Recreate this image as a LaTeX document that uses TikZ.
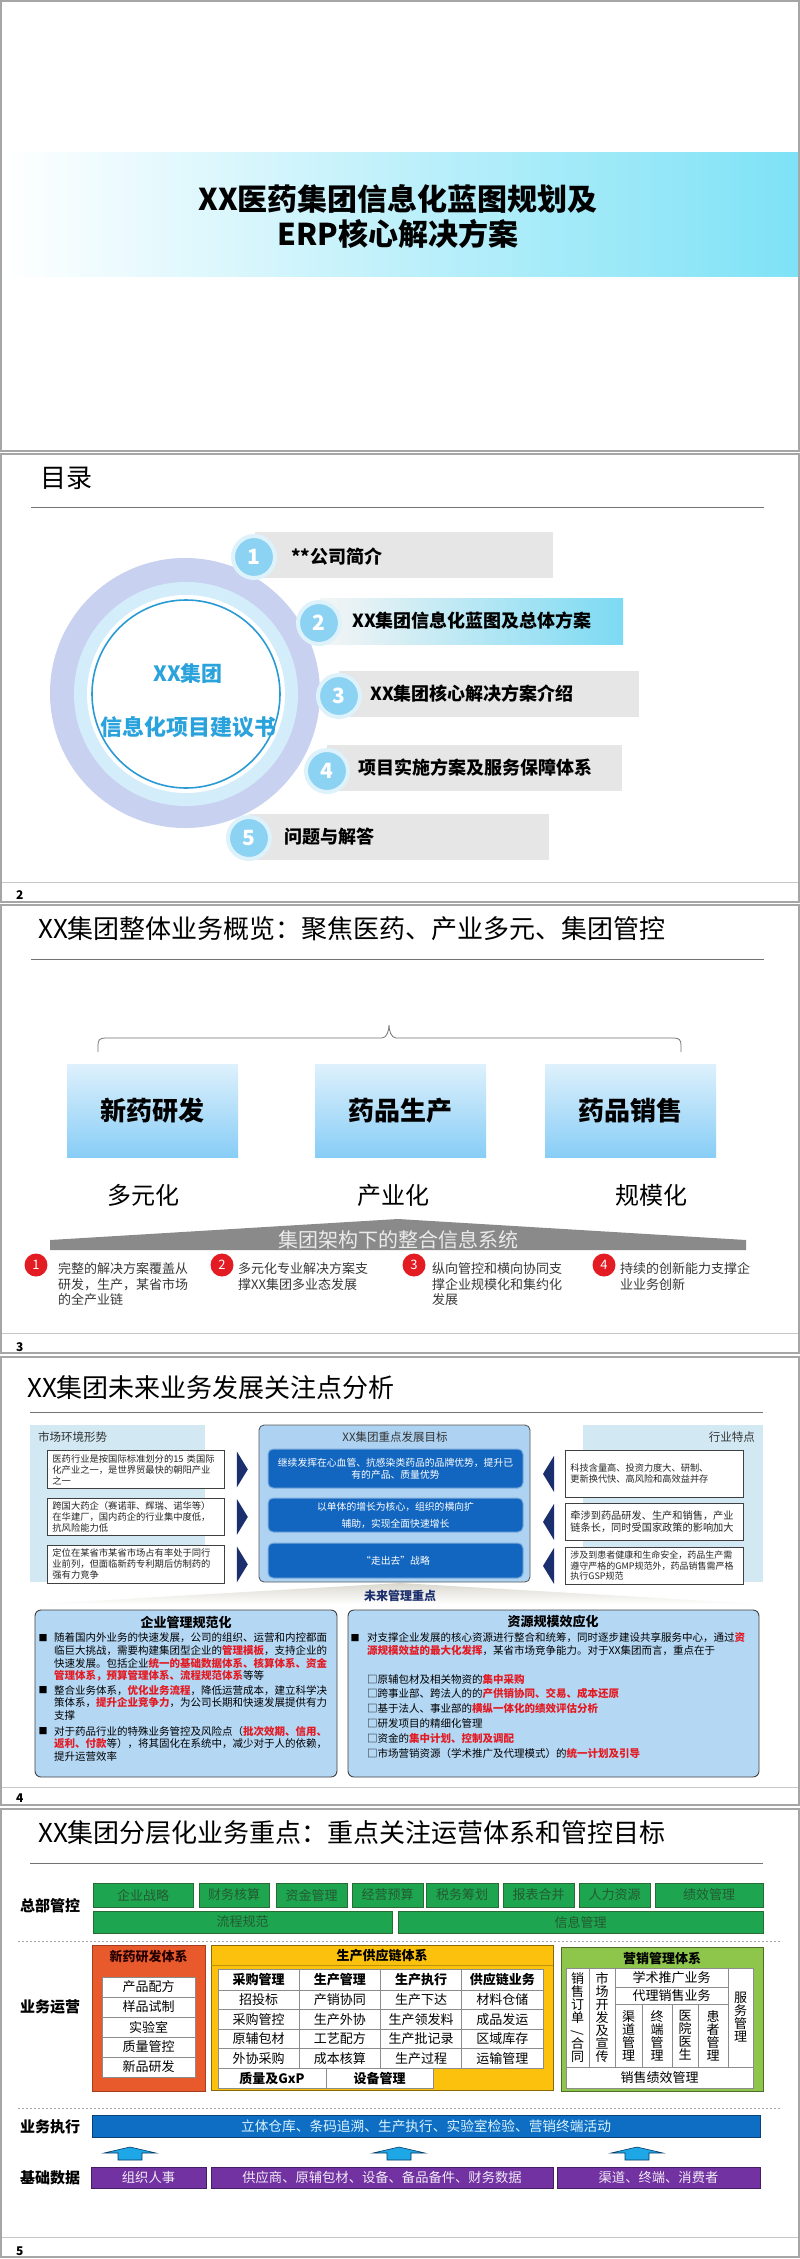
\documentclass[tikz,border=0pt]{standalone}
\usepackage{fontspec}
\usepackage{graphicx}
\setmainfont{Noto Sans CJK SC}
\usetikzlibrary{positioning}

\definecolor{framegray}{HTML}{A6A6A6}
\definecolor{bandcyan}{HTML}{7EE2F6}
\definecolor{ringout}{HTML}{C8D2F0}
\definecolor{ringin}{HTML}{D4EDFB}
\definecolor{ringline}{HTML}{2A9AD4}
\definecolor{tocblue}{HTML}{2AA2DC}
\definecolor{tocgray}{HTML}{E6E6E6}
\definecolor{numblue}{HTML}{8CD2F2}
\definecolor{numhalo}{HTML}{DDF2FB}
\definecolor{barcyan}{HTML}{7CDAF3}
\definecolor{boxtop}{HTML}{DEF1FC}
\definecolor{boxbot}{HTML}{88CDF6}
\definecolor{roofgray}{HTML}{8A8A8A}
\definecolor{hired}{HTML}{E31B23}
\definecolor{panelblue}{HTML}{D2E8F3}
\definecolor{goalpanel}{HTML}{AED3F2}
\definecolor{goalblue}{HTML}{1266C0}
\definecolor{navy}{HTML}{1B2F6E}
\definecolor{tipgray}{HTML}{DAD8CE}
\definecolor{mgmtblue}{HTML}{B4D7F4}
\definecolor{grnfill}{HTML}{1DA54F}
\definecolor{grnline}{HTML}{2C6A35}
\definecolor{grntext}{HTML}{245A32}
\definecolor{rdorange}{HTML}{E8592C}
\definecolor{scgold}{HTML}{FBC10D}
\definecolor{mkgreen}{HTML}{8DC64B}
\definecolor{execblue}{HTML}{0D6EC4}
\definecolor{arrblue}{HTML}{1DA7E6}
\definecolor{purp}{HTML}{7232A1}

\newcommand{\redbf}[1]{\textcolor{hired}{\bfseries #1}}

\tikzset{
  slide/.style   = {draw=framegray, line width=2pt},
  ttl/.style     = {anchor=west, inner sep=0pt, font=\fontsize{26}{30}\selectfont},
  rule/.style    = {draw=black!55, line width=0.9pt},
  foot/.style    = {draw=black!22, line width=0.9pt},
  pgno/.style    = {anchor=west, inner sep=0pt, font=\fontsize{12}{12}\selectfont\bfseries},
  tocbar/.style  = {rectangle, fill=tocgray, anchor=west, minimum height=46pt, inner sep=0pt},
  tocnum/.style  = {circle, fill=numblue, draw=numhalo, line width=4pt, minimum size=42pt,
                    inner sep=0pt, text=white, font=\fontsize{21}{21}\selectfont\bfseries},
  toctxt/.style  = {anchor=west, inner sep=0pt, font=\fontsize{18}{18}\selectfont\bfseries},
  ctr/.style     = {inner sep=0pt, text=tocblue, font=\fontsize{21}{21}\selectfont\bfseries},
  seg/.style     = {rectangle, top color=boxtop, bottom color=boxbot, minimum width=171pt,
                    minimum height=93pt, inner sep=0pt, font=\fontsize{26}{26}\selectfont\bfseries},
  trait/.style   = {inner sep=0pt, font=\fontsize{24}{24}\selectfont},
  brc/.style     = {draw=black!55, line width=0.8pt},
  rednum/.style  = {circle, fill=hired, minimum size=23pt, inner sep=0pt, text=white,
                    font=\fontsize{13}{13}\selectfont},
  pt3/.style     = {anchor=north west, inner sep=0pt, align=left, text=black!78,
                    font=\fontsize{13}{15.5}\selectfont},
  phead/.style   = {inner sep=0pt, text=black!80, font=\fontsize{11.5}{11.5}\selectfont},
  mkbox/.style   = {rectangle, draw=black!75, line width=0.8pt, fill=white, anchor=north west,
                    align=left, inner xsep=5pt, inner ysep=0pt, text=black!85},
  goal/.style    = {rectangle, rounded corners=5pt, fill=goalblue, draw=goalblue!55, line width=1pt,
                    minimum width=255pt, align=center, inner sep=0pt, text=white,
                    font=\fontsize{9.8}{12}\selectfont},
  chev/.style    = {fill=navy},
  mgmt/.style    = {draw=black!75, line width=0.9pt, fill=mgmtblue, rounded corners=6pt},
  mhead/.style   = {inner sep=0pt, font=\fontsize{13}{13}\selectfont\bfseries},
  para/.style    = {anchor=north west, inner sep=0pt, align=left, font=\fontsize{10.5}{12.7}\selectfont},
  blt/.style     = {inner sep=0pt, font=\fontsize{9}{9}\selectfont},
  lyr/.style     = {inner sep=0pt, font=\fontsize{15}{15}\selectfont\bfseries},
  grn/.style     = {rectangle, fill=grnfill, draw=grnline, line width=0.9pt, inner sep=0pt,
                    text=grntext, font=\fontsize{13}{13}\selectfont},
  sepline/.style = {draw=black!35, dash pattern=on 2pt off 2pt, line width=0.9pt},
  cell/.style    = {rectangle, draw=black!45, fill=white, inner sep=0pt, line width=0.6pt,
                    align=center, font=\fontsize{13}{13}\selectfont},
  sysh/.style    = {inner sep=0pt, font=\fontsize{13}{13}\selectfont\bfseries},
  execbar/.style = {rectangle, fill=execblue, draw=execblue!60!black, line width=0.9pt, inner sep=0pt,
                    text=white!85!cyan, font=\fontsize{13.7}{13.7}\selectfont},
  upar/.style    = {fill=arrblue, draw=execblue!50!black, line width=0.6pt},
  datab/.style   = {rectangle, fill=purp, draw=purp!60!black, line width=0.9pt, inner sep=0pt,
                    text=white!90!purp, font=\fontsize{13.3}{13.3}\selectfont},
}

\begin{document}
\begin{tikzpicture}[x=1pt, y=-1pt]
  \useasboundingbox (0,0) rectangle (800,2259);
  \fill[white] (0,0) rectangle (800,2259);

  % slide 1
  \draw[slide] (1,1) rectangle (799,451);
  \shade[left color=white, right color=bandcyan] (2,152) rectangle (798,276);
  \node[align=center, font=\fontsize{30}{35}\selectfont\bfseries] (cover) at (398,217)
    {XX医药集团信息化蓝图规划及\\ERP核心解决方案};

  % slide 2
  \draw[slide] (1,454) rectangle (799,902);
  \node[ttl] (toc) at (40,478) {目录};
  \draw[rule] (31,507) -- (764,507);
  \fill[ringout] (185,693) circle (135pt);
  \fill[ringin] (186,694) circle (112pt);
  \fill[white] (186,694) circle (99pt);
  \draw[ringline, line width=1.6pt] (186,694) circle (94pt);
  \node[ctr] (grp) at (188,673) {XX集团};
  \node[ctr, font=\fontsize{22}{22}\selectfont\bfseries] (book) at (188,727) {信息化项目建议书};

  \node[tocbar, minimum width=298pt] (bar1) at (255,555) {};
  \node[tocbar, minimum width=303pt, left color=tocgray!40, right color=barcyan] (bar2) at (320,621) {};
  \node[tocbar, minimum width=300pt] (bar3) at (339,693.5) {};
  \node[tocbar, minimum width=295pt] (bar4) at (327,767.5) {};
  \node[tocbar, minimum width=300pt] (bar5) at (249,836.5) {};
  \node[tocnum] (n1) at (254,557) {1};
  \node[tocnum] (n2) at (319,623) {2};
  \node[tocnum] (n3) at (339,696) {3};
  \node[tocnum] (n4) at (327,771) {4};
  \node[tocnum] (n5) at (249,838) {5};
  \node[toctxt] (t1) at (291,557) {**公司简介};
  \node[toctxt] (t2) at (352,621) {XX集团信息化蓝图及总体方案};
  \node[toctxt] (t3) at (370,694) {XX集团核心解决方案介绍};
  \node[toctxt] (t4) at (358,768) {项目实施方案及服务保障体系};
  \node[toctxt] (t5) at (284,837) {问题与解答};
  \draw[foot] (2,882) -- (798,882);
  \node[pgno] (p2) at (16,895) {2};

  % slide 3
  \draw[slide] (1,905) rectangle (799,1353);
  \node[ttl] (ov) at (38,929) {XX集团整体业务概览：聚焦医药、产业多元、集团管控};
  \draw[rule] (31,959) -- (764,959);
  \coordinate (brl) at (98,1052);
  \coordinate (brr) at (681,1052);
  \draw[brc] (brl) -- (98,1045) .. controls +(0,-5) and +(-5,0) .. (105,1038) -- (382,1038)
    .. controls +(5,0) and +(0,5) .. (389,1025) .. controls +(0,5) and +(-5,0) .. (396,1038)
    -- (674,1038) .. controls +(5,0) and +(0,-5) .. (681,1045) -- (brr);
  \node[seg] (rd) at (152.5,1110.5) {新药研发};
  \node[seg] (mfg) at (400.5,1110.5) {药品生产};
  \node[seg] (sale) at (630.5,1110.5) {药品销售};
  \node[trait] (div) at (143,1195) {多元化};
  \node[trait] (ind) at (393,1195) {产业化};
  \node[trait] (scl) at (651,1195) {规模化};
  \fill[roofgray] (50,1250) -- (50,1240) -- (398,1219) -- (746,1240) -- (746,1250) -- cycle;
  \node[inner sep=0pt, text=white!92!black, font=\fontsize{20}{20}\selectfont] (roof) at (398,1240)
    {集团架构下的整合信息系统};
  \node[rednum] (r1) at (36,1265) {1};
  \node[rednum] (r2) at (222,1265) {2};
  \node[rednum] (r3) at (414,1265) {3};
  \node[rednum] (r4) at (604,1265) {4};
  \node[pt3] (q1) at (58,1262.5) {完整的解决方案覆盖从\\研发，生产，某省市场\\的全产业链};
  \node[pt3] (q2) at (238,1262.5) {多元化专业解决方案支\\撑XX集团多业态发展};
  \node[pt3] (q3) at (432,1262.5) {纵向管控和横向协同支\\撑企业规模化和集约化\\发展};
  \node[pt3] (q4) at (620,1262.5) {持续的创新能力支撑企\\业业务创新};
  \draw[foot] (2,1333) -- (798,1333);
  \node[pgno] (p3) at (16,1347) {3};

  % slide 4
  \draw[slide] (1,1357) rectangle (799,1805);
  \node[ttl] (fut) at (27,1388) {XX集团未来业务发展关注点分析};
  \draw[rule] (30,1412) -- (763,1412);
  \fill[panelblue] (30,1425) rectangle (205,1582);
  \node[phead, anchor=west] (mkt) at (38,1437) {市场环境形势};
  \node[mkbox, text width=167pt, minimum height=38pt, font=\fontsize{9.3}{11}\selectfont] (mk1) at (47,1450)
    {医药行业是按国际标准划分的15 类国际\\化产业之一，是世界贸最快的朝阳产业\\之一};
  \node[mkbox, text width=167pt, minimum height=37pt, font=\fontsize{9.3}{11}\selectfont] (mk2) at (47,1498)
    {跨国大药企（赛诺菲、辉瑞、诺华等）\\在华建厂，国内药企的行业集中度低，\\抗风险能力低};
  \node[mkbox, text width=167pt, minimum height=38pt, font=\fontsize{9.3}{11}\selectfont] (mk3) at (47,1545)
    {定位在某省市某省市场占有率处于同行\\业前列，但面临新药专利期后仿制药的\\强有力竞争};
  \fill[chev] ([xshift=12pt]mk1.east) ++(0,-18) -- ++(11,18) -- ++(-11,18) -- cycle;
  \fill[chev] ([xshift=12pt]mk2.east) ++(0,-18) -- ++(11,18) -- ++(-11,18) -- cycle;
  \fill[chev] ([xshift=12pt]mk3.east) ++(0,-18) -- ++(11,18) -- ++(-11,18) -- cycle;

  \draw[draw=black!65, line width=0.9pt, fill=goalpanel, rounded corners=5pt] (259,1425) rectangle (530,1582);
  \node[phead] (gl) at (395,1437) {XX集团重点发展目标};
  \node[goal, minimum height=39pt] (g1) at (395.5,1468.5)
    {继续发挥在心血管、抗感染类药品的品牌优势，提升已\\有的产品、质量优势};
  \node[goal, minimum height=34pt, font=\fontsize{9.8}{17}\selectfont] (g2) at (395.5,1515)
    {以单体的增长为核心，组织的横向扩\\辅助，实现全面快速增长};
  \node[goal, minimum height=35pt] (g3) at (395.5,1560.5) {“走出去”战略};

  \fill[panelblue] (583,1425) rectangle (763,1582);
  \node[phead, anchor=east] (trd) at (755,1437) {行业特点};
  \node[mkbox, text width=168pt, minimum height=47pt, font=\fontsize{9.2}{11}\selectfont] (ch1) at (565,1450)
    {科技含量高、投资力度大、研制、\\更新换代快、高风险和高效益并存};
  \node[mkbox, text width=168pt, minimum height=37pt, font=\fontsize{10.2}{11.5}\selectfont] (ch2) at (565,1503)
    {牵涉到药品研发、生产和销售，产业\\链条长，同时受国家政策的影响加大};
  \node[mkbox, text width=168pt, minimum height=37pt, font=\fontsize{9}{10.5}\selectfont] (ch3) at (565,1547)
    {涉及到患者健康和生命安全，药品生产需\\遵守严格的GMP规范外，药品销售需严格\\执行GSP规范};
  \fill[chev] ([xshift=-11pt]ch1.west) ++(0,-18) -- ++(-11,18) -- ++(11,18) -- cycle;
  \fill[chev] ([xshift=-11pt]ch2.west) ++(0,-18) -- ++(-11,18) -- ++(11,18) -- cycle;
  \fill[chev] ([xshift=-11pt]ch3.west) ++(0,-18) -- ++(-11,18) -- ++(11,18) -- cycle;

  \shade[top color=tipgray, bottom color=white] (38,1604) -- (400,1583) -- (762,1604) -- cycle;
  \node[inner sep=0pt, text=navy, font=\fontsize{12}{12}\selectfont\bfseries] (focus) at (400,1596) {未来管理重点};

  \draw[mgmt] (35,1610) rectangle (337,1777);
  \node[mhead] (std) at (186,1622) {企业管理规范化};
  \node[blt] (b1) at (43,1638) {■};
  \node[para] (s1) at (54,1632.75)
    {随着国内外业务的快速发展，公司的组织、运营和内控都面\\临巨大挑战，需要构建集团型企业的\redbf{管理模板}，支持企业的\\快速发展。包括企业\redbf{统一的基础数据体系、核算体系、资金}\\\redbf{管理体系，预算管理体系、流程规范体系}等等};
  \node[blt] (b2) at (43,1690) {■};
  \node[para] (s2) at (54,1684.75)
    {整合业务体系，\redbf{优化业务流程}，降低运营成本，建立科学决\\策体系，\redbf{提升企业竞争力}，为公司长期和快速发展提供有力\\支撑};
  \node[blt] (b3) at (43,1731) {■};
  \node[para] (s3) at (54,1725.75)
    {对于药品行业的特殊业务管控及风险点（\redbf{批次效期、信用、}\\\redbf{返利、付款}等），将其固化在系统中，减少对于人的依赖，\\提升运营效率};

  \draw[mgmt] (348,1610) rectangle (759,1777);
  \node[mhead] (res) at (553,1622) {资源规模效应化};
  \node[blt] (b4) at (355,1638) {■};
  \node[para] (s4) at (367,1632.75)
    {对支撑企业发展的核心资源进行整合和统筹，同时逐步建设共享服务中心，通过\redbf{资}\\\redbf{源规模效益的最大化发挥}，某省市场竞争能力。对于XX集团而言，重点在于};
  \node[para, font=\fontsize{10.5}{14.8}\selectfont] (s5) at (367,1673.75)
    {□原辅包材及相关物资的\redbf{集中采购}\\□跨事业部、跨法人的的\redbf{产供销协同、交易、成本还原}\\□基于法人、事业部的\redbf{横纵一体化的绩效评估分析}\\□研发项目的精细化管理\\□资金的\redbf{集中计划、控制及调配}\\□市场营销资源（学术推广及代理模式）的\redbf{统一计划及引导}};
  \draw[foot] (2,1787) -- (798,1787);
  \node[pgno] (p4) at (16,1798) {4};

  % slide 5
  \draw[slide] (1,1809) rectangle (799,2257);
  \node[ttl] (lay) at (38,1833) {XX集团分层化业务重点：重点关注运营体系和管控目标};
  \draw[rule] (30,1863) -- (763,1863);
  \node[lyr] (hq) at (50,1906) {总部管控};
  \node[lyr] (ops) at (50,2007) {业务运营};
  \node[lyr] (exe) at (50,2127) {业务执行};
  \node[lyr] (dat) at (50,2178) {基础数据};

  \foreach \xl/\xr/\txt/\nm in {93/193/企业战略/hq1, 199/269/财务核算/hq2, 276/347/资金管理/hq3,
      352/423/经营预算/hq4, 426/498/税务筹划/hq5, 503/574/报表合并/hq6, 579/650/人力资源/hq7,
      655/763/绩效管理/hq8}
    \node[grn, minimum width=\xr-\xl, minimum height=24pt] (\nm) at ({(\xl+\xr)/2},1895) {\txt};
  \node[grn, minimum width=299pt, minimum height=22pt] (flow) at (242.5,1922) {流程规范};
  \node[grn, minimum width=365pt, minimum height=22pt] (info) at (580.5,1922) {信息管理};
  \draw[sepline] (18,1941) -- (782,1941);

  \draw[fill=rdorange, draw=rdorange!70!black, line width=0.9pt] (92,1945) rectangle (205,2091);
  \node[sysh, text=black!85!red] (rdh) at (148.5,1957) {新药研发体系};
  \foreach \txt [count=\i] in {产品配方, 样品试制, 实验室, 质量管控, 新品研发}
    \node[cell, minimum width=93pt, minimum height=20pt] (rd\i) at (148.5,{1967+20*\i}) {\txt};

  \draw[fill=scgold, draw=scgold!55!black, line width=0.9pt] (211,1945) rectangle (553,2090);
  \draw[scgold!75!black, line width=0.6pt] (211,1965) -- (553,1965);
  \node[sysh] (sch) at (382,1956) {生产供应链体系};
  \foreach \hd [count=\c] in {采购管理, 生产管理, 生产执行, 供应链业务}
    \node[cell, font=\fontsize{13}{13}\selectfont\bfseries, minimum width=81.25pt, minimum height=21pt]
      (sc0\c) at ({177.375+81.25*\c},1979.5) {\hd};
  \foreach \row [count=\r] in {{招投标,产销协同,生产下达,材料仓储}, {采购管控,生产外协,生产领发料,成品发运},
      {原辅包材,工艺配方,生产批记录,区域库存}, {外协采购,成本核算,生产过程,运输管理}}
    \foreach \txt [count=\c] in \row
      \node[cell, minimum width=81.25pt, minimum height=19.5pt] (sc\r\c) at ({177.375+81.25*\c},{1980.25+19.5*\r}) {\txt};
  \node[cell, font=\fontsize{13}{13}\selectfont\bfseries, minimum width=108pt, minimum height=20pt] (gxp) at (272,2078) {质量及GxP};
  \node[cell, font=\fontsize{13}{13}\selectfont\bfseries, minimum width=107pt, minimum height=20pt] (eqp) at (379.5,2078) {设备管理};

  \draw[fill=mkgreen, draw=mkgreen!55!black, line width=0.9pt] (561,1947) rectangle (763,2091);
  \node[sysh] (mkh) at (662,1958) {营销管理体系};
  \node[cell, minimum width=23pt, minimum height=99pt] (ord) at (577.5,2017.5) {销\\售\\订\\单\\\rotatebox{90}{/}\\合\\同};
  \node[cell, minimum width=26pt, minimum height=99pt] (prm) at (602,2017.5) {市\\场\\开\\发\\及\\宣\\传};
  \node[cell, minimum width=113pt, minimum height=19pt] (aca) at (671.5,1977.5) {学术推广业务};
  \node[cell, minimum width=113pt, minimum height=17pt] (agt) at (671.5,1995.5) {代理销售业务};
  \node[cell, minimum width=27pt, minimum height=63pt] (chn) at (628.5,2035.5) {渠\\道\\管\\理};
  \node[cell, minimum width=30pt, minimum height=63pt] (trm) at (657,2035.5) {终\\端\\管\\理};
  \node[cell, minimum width=26pt, minimum height=63pt] (hsp) at (685,2035.5) {医\\院\\医\\生};
  \node[cell, minimum width=30pt, minimum height=63pt] (pat) at (713,2035.5) {患\\者\\管\\理};
  \node[cell, minimum width=25pt, minimum height=99pt] (svc) at (740.5,2017.5) {服\\务\\管\\理};
  \node[cell, minimum width=187pt, minimum height=21pt] (perf) at (659.5,2077.5) {销售绩效管理};
  \draw[sepline] (18,2108) -- (782,2108);

  \node[execbar, minimum width=668pt, minimum height=22pt] (run) at (426,2126)
    {立体仓库、条码追溯、生产执行、实验室检验、营销终端活动};
  \foreach \ax in {130,399,637}
    \filldraw[upar] (\ax,2147) -- ++(26,6) -- ++(-14,0) -- ++(0,7) -- ++(-24,0) -- ++(0,-7) -- ++(-14,0) -- cycle;
  \node[datab, minimum width=115pt, minimum height=21pt] (org) at (148.5,2177.5) {组织人事};
  \node[datab, minimum width=342pt, minimum height=21pt] (sup) at (382,2177.5) {供应商、原辅包材、设备、备品备件、财务数据};
  \node[datab, minimum width=203pt, minimum height=21pt] (cus) at (658.5,2177.5) {渠道、终端、消费者};
  \draw[foot] (2,2237) -- (798,2237);
  \node[pgno] (p5) at (16,2251) {5};
\end{tikzpicture}
\end{document}
